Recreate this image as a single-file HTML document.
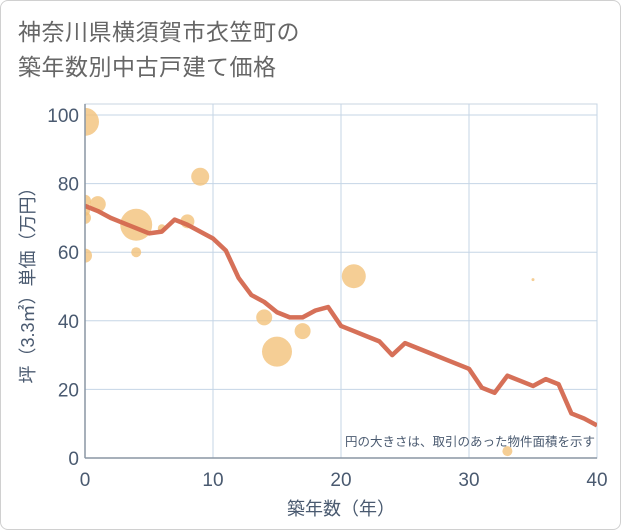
<!DOCTYPE html>
<html><head><meta charset="utf-8"><style>
body{margin:0;background:#fff;}
#wrap{position:relative;width:619px;height:528px;border:1px solid #d0d0d0;border-radius:8px;overflow:hidden;background:#fff;font-family:"Liberation Sans","Noto Sans CJK JP",sans-serif;}
#title{position:absolute;left:17px;top:14px;font-size:23px;line-height:35px;color:#666;letter-spacing:0.5px;}
svg{position:absolute;left:0;top:0;}
</style></head><body>
<div id="wrap">
<div id="title">神奈川県横須賀市衣笠町の<br>築年数別中古戸建て価格</div>
<svg id="chart" width="621" height="530"><defs><clipPath id="pc"><rect x="84" y="103" width="512" height="354"/></clipPath></defs></svg>
</div>
<script>
const xTicks=[0,10,20,30,40];
const yTicks=[0,20,40,60,80,100];
const lineYears=[0,1,2,3,4,5,6,7,8,9,10,11,12,13,14,15,16,17,18,19,20,21,22,23,24,25,26,27,28,29,30,31,32,33,34,35,36,37,38,39,40];
const linePrices=[73.5,72,70,68.5,67,65.5,66,69.5,68,66,64,60.5,52.5,47.5,45.5,42.5,41,41,43,44,38.5,37,35.5,34,30,33.5,32,30.5,29,27.5,26,20.5,19,24,22.5,21,23,21.5,13,11.5,9.5];
const bubbleYears=[0,0,0,0,0,1,4,4,6,8,9,14,15,17,21,33,35];
const bubblePrices=[98,75,72,70,59,74,68,60,67,69,82,41,31,37,53,2,52];
const bubbleSizes=[14,6,5,6,7,8,16,5,4,7,9,8,15,8,12,5,1.5];
const X0=84,X1=596,Y0=457,Y1=114,TOP=103;
const sx=v=>X0+(v-0)/40*(X1-X0);
const sy=v=>Y0-(v/100)*(Y0-Y1);
const svg=document.getElementById('chart');
const NS='http://www.w3.org/2000/svg';
function mk(t,a,p){const e=document.createElementNS(NS,t);for(const k in a)e.setAttribute(k,a[k]);(p||svg).appendChild(e);return e;}
let r=mk('rect',{x:X0,y:TOP,width:X1-X0,height:Y0-TOP,fill:'none',stroke:'#c8d4e0'});


xTicks.forEach(t=>{
 let g=mk('line',{x1:sx(t),x2:sx(t),y1:TOP,y2:Y0,stroke:'#c5d5e6','stroke-width':1});
 
 
 let l=mk('text',{x:sx(t),y:Y0+28,'text-anchor':'middle','font-size':19,fill:'#4a5a70'});
 l.textContent=t;
 
 
});
yTicks.forEach(t=>{
 let g=mk('line',{x1:X0,x2:X1,y1:sy(t),y2:sy(t),stroke:'#c5d5e6','stroke-width':1});
 
 
 let l=mk('text',{x:X0-6,y:sy(t)+7,'text-anchor':'end','font-size':19,fill:'#4a5a70'});
 l.textContent=t;
 
 
});
const gp=mk('g',{'clip-path':'url(#pc)'});


bubbleYears.forEach((yr,i)=>{
 let c=mk('circle',{cx:sx(yr),cy:sy(bubblePrices[i]),r:bubbleSizes[i],fill:'#f3c27a','fill-opacity':0.8},gp);
 
 
});
let pts=lineYears.map((y,i)=>sx(y)+','+sy(linePrices[i])).join(' ');
let pl=mk('polyline',{points:pts,fill:'none',stroke:'#d4684f','stroke-width':4.5,'stroke-linejoin':'round','stroke-opacity':0.95},gp);


let ax=mk('line',{x1:X0,x2:X1,y1:Y0,y2:Y0,stroke:'#8a96a4','stroke-width':1.5});


let ay=mk('line',{x1:X0,x2:X0,y1:TOP,y2:Y0,stroke:'#8a96a4','stroke-width':1.5});


let note=mk('text',{x:X1-2,y:445,'text-anchor':'end','font-size':12.5,fill:'#4a5a70'});
note.textContent='円の大きさは、取引のあった物件面積を示す';


let xt=mk('text',{x:(X0+X1)/2,y:514,'text-anchor':'middle','font-size':18,fill:'#4a5a70'});
xt.textContent='築年数（年）';


let yt=mk('text',{x:0,y:0,'text-anchor':'middle','font-size':18,fill:'#4a5a70',transform:'translate(33,'+((TOP+Y0)/2)+') rotate(-90)'});
yt.textContent='坪（3.3㎡）単価（万円）';


</script>
</body></html>
